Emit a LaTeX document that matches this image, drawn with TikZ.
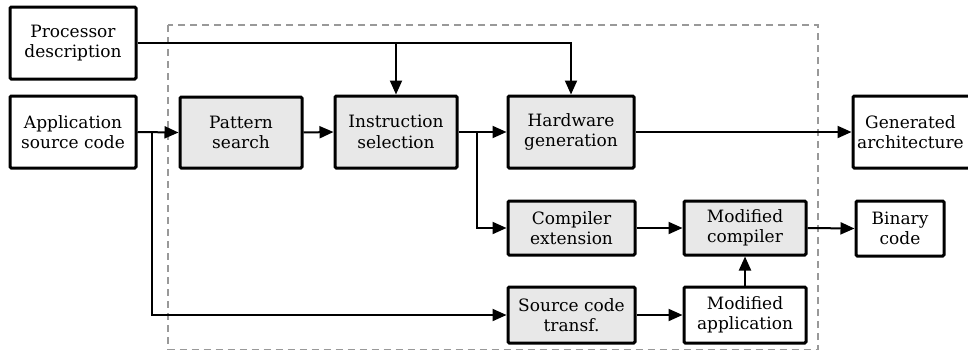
\documentclass[tikz,border=0pt]{standalone}
\usepackage{fontspec}
\setmainfont{DejaVu Serif}
\usetikzlibrary{arrows.meta}
\begin{document}
\begin{tikzpicture}[x=1pt,y=-1pt,
  box/.style={draw, line width=3pt, rounded corners=1.2pt, align=center, inner sep=0pt,
    font=\fontsize{17}{20.5}\selectfont},
  gbox/.style={box, fill=black!9},
  conn/.style={line width=2pt, -{Triangle[length=14pt,width=12pt]}}]
\useasboundingbox (0,0) rectangle (968,351);
\draw[gray!80, line width=1.3pt, dash pattern=on 7pt off 5pt] (168,25) rectangle (818,349.5);
\node[box, minimum width=126pt, minimum height=72pt] (proc) at (73,43) {Processor\\description};
\node[box, minimum width=126pt, minimum height=72pt] (app) at (73,132) {Application\\source code};
\node[gbox, minimum width=122pt, minimum height=71pt] (pat) at (241,132.5) {Pattern\\search};
\node[gbox, minimum width=122pt, minimum height=72pt] (ins) at (396,132) {Instruction\\selection};
\node[gbox, minimum width=126pt, minimum height=72pt] (hw) at (571,132) {Hardware\\generation};
\node[box, minimum width=128pt, minimum height=72pt] (gen) at (917,132) {Generated\hspace*{13pt}\\architecture\hspace*{13pt}};
\node[gbox, minimum width=127pt, minimum height=54pt] (cext) at (571.5,228) {Compiler\\extension};
\node[gbox, minimum width=122pt, minimum height=54pt] (mcomp) at (745,228) {Modified\\compiler};
\node[box, minimum width=88pt, minimum height=55pt] (bin) at (900,228.5) {Binary\\code};
\node[gbox, minimum width=127pt, minimum height=56pt] (src) at (571.5,315) {Source code\\transf.};
\node[box, minimum width=122pt, minimum height=56pt] (mapp) at (745,315) {Modified\\application};
\coordinate (b1) at (152,132);
\coordinate (b2) at (477,132);
% connectors
\draw[conn] (proc.east) -| (hw.north);
\draw[conn] (ins.north |- proc.east) -- (ins.north);
\draw[conn] (app.east) -- (pat.west);
\draw[conn] (b1) |- (src.west);
\draw[conn] (pat.east) -- (ins.west);
\draw[conn] (ins.east) -- (hw.west);
\draw[conn] (b2) |- (cext.west);
\draw[conn] (hw.east) -- (gen.west);
\draw[conn] (cext.east) -- (mcomp.west);
\draw[conn] (mcomp.east) -- (bin.west);
\draw[conn] (src.east) -- (mapp.west);
\draw[conn] (mapp.north) -- (mcomp.south);
\end{tikzpicture}
\end{document}
